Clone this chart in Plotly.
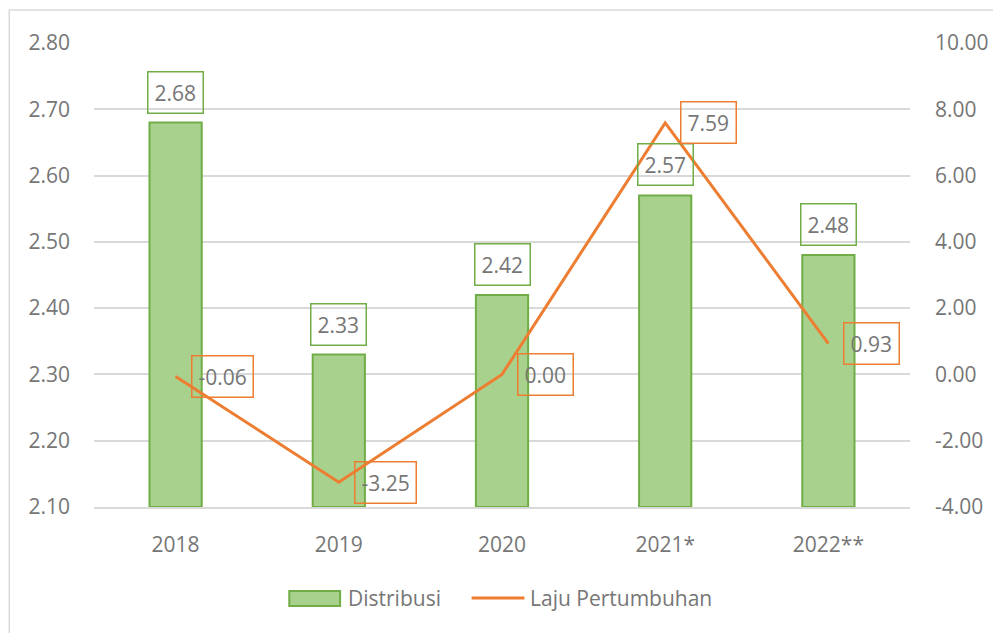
import plotly.graph_objects as go

categories = ["2018", "2019", "2020", "2021*", "2022**"]
distribusi = [2.68, 2.33, 2.42, 2.57, 2.48]
laju = [-0.06, -3.25, 0.00, 7.59, 0.93]
left_ticks = [2.10, 2.20, 2.30, 2.40, 2.50, 2.60, 2.70, 2.80]
right_ticks = [-4, -2, 0, 2, 4, 6, 8, 10]
legend_names = ["Distribusi", "Laju Pertumbuhan"]

GREEN_FILL = "#A9D18E"
GREEN_LINE = "#70AD47"
ORANGE = "#ED7D31"
TEXT = "#767676"
GRID = "#D9D9D9"
FONT = "Open Sans"
FS = 21

# page body adds an 8px offset; plot area lands at window x 94..913, y 43..507
PL, PT, PW, PH = 94, 43, 819, 464


def px(X):
    return (X - PL) / PW


def py(Y):
    return (PT + PH - Y) / PH


xpos = list(range(len(categories)))

fig = go.Figure()
fig.add_trace(go.Bar(
    x=xpos, y=[v - 2.10 for v in distribusi], base=2.10,
    name=legend_names[0], showlegend=False,
    marker=dict(color=GREEN_FILL, line=dict(color=GREEN_LINE, width=2)),
    width=0.32, yaxis="y",
))
fig.add_trace(go.Scatter(
    x=xpos, y=laju, name=legend_names[1], mode="lines", showlegend=False,
    line=dict(color=ORANGE, width=3), yaxis="y2",
))

annotations = []
for i, v in zip(xpos, distribusi):
    annotations.append(dict(
        x=i, y=v, xref="x", yref="y", text=f"{v:.2f}", showarrow=False,
        yanchor="bottom", yshift=9, font=dict(family=FONT, size=FS, color=TEXT),
        bordercolor=GREEN_LINE, borderwidth=1.5, borderpad=6,
    ))
for i, v in zip(xpos, laju):
    annotations.append(dict(
        x=i, y=v, xref="x", yref="y2", text=f"{v:.2f}", showarrow=False,
        xanchor="left", yanchor="middle", xshift=15,
        font=dict(family=FONT, size=FS, color=TEXT),
        bordercolor=ORANGE, borderwidth=1.5, borderpad=6,
    ))

# legend (drawn manually to match the wide swatches)
annotations.append(dict(
    x=px(347), y=py(598), xref="paper", yref="paper", text=legend_names[0],
    showarrow=False, xanchor="left", yanchor="middle",
    font=dict(family=FONT, size=FS, color=TEXT),
))
annotations.append(dict(
    x=px(530), y=py(598), xref="paper", yref="paper", text=legend_names[1],
    showarrow=False, xanchor="left", yanchor="middle",
    font=dict(family=FONT, size=FS, color=TEXT),
))

shapes = [
    dict(type="rect", xref="paper", yref="paper",
         x0=px(9), x1=px(1012), y0=py(640), y1=py(10),
         line=dict(color=GRID, width=1.5), layer="below"),
    dict(type="rect", xref="paper", yref="paper",
         x0=px(290), x1=px(341), y0=py(606), y1=py(591),
         fillcolor=GREEN_FILL, line=dict(color=GREEN_LINE, width=2)),
    dict(type="line", xref="paper", yref="paper",
         x0=px(473), x1=px(526), y0=py(598), y1=py(598),
         line=dict(color=ORANGE, width=3)),
]

fig.update_layout(
    width=993, height=625,
    margin=dict(l=PL - 8, r=993 - (PL - 8) - PW, t=PT - 8, b=625 - (PT - 8) - PH),
    paper_bgcolor="white", plot_bgcolor="white",
    font=dict(family=FONT, size=FS, color=TEXT),
    showlegend=False,
    xaxis=dict(
        range=[-0.5, len(categories) - 0.5],
        tickvals=xpos, ticktext=categories,
        showgrid=False, showline=True, linecolor=GRID, linewidth=1.5,
        ticks="", zeroline=False,
        tickfont=dict(family=FONT, size=FS, color=TEXT),
        ticklabelstandoff=18,
    ),
    yaxis=dict(
        range=[2.10, 2.80], tickvals=left_ticks,
        ticktext=[f"{v:.2f}" for v in left_ticks],
        showgrid=True, gridcolor=GRID, gridwidth=1.5, zeroline=False,
        showline=False, ticks="", ticklabelstandoff=23,
        tickfont=dict(family=FONT, size=FS, color=TEXT),
    ),
    yaxis2=dict(
        range=[-4, 10], tickvals=right_ticks,
        ticktext=[f"{v:.2f}" for v in right_ticks],
        overlaying="y", side="right", showgrid=False, zeroline=False,
        showline=False, ticks="", ticklabelstandoff=24,
        tickfont=dict(family=FONT, size=FS, color=TEXT),
    ),
    annotations=annotations,
    shapes=shapes,
)

fig.write_html("out.html")
